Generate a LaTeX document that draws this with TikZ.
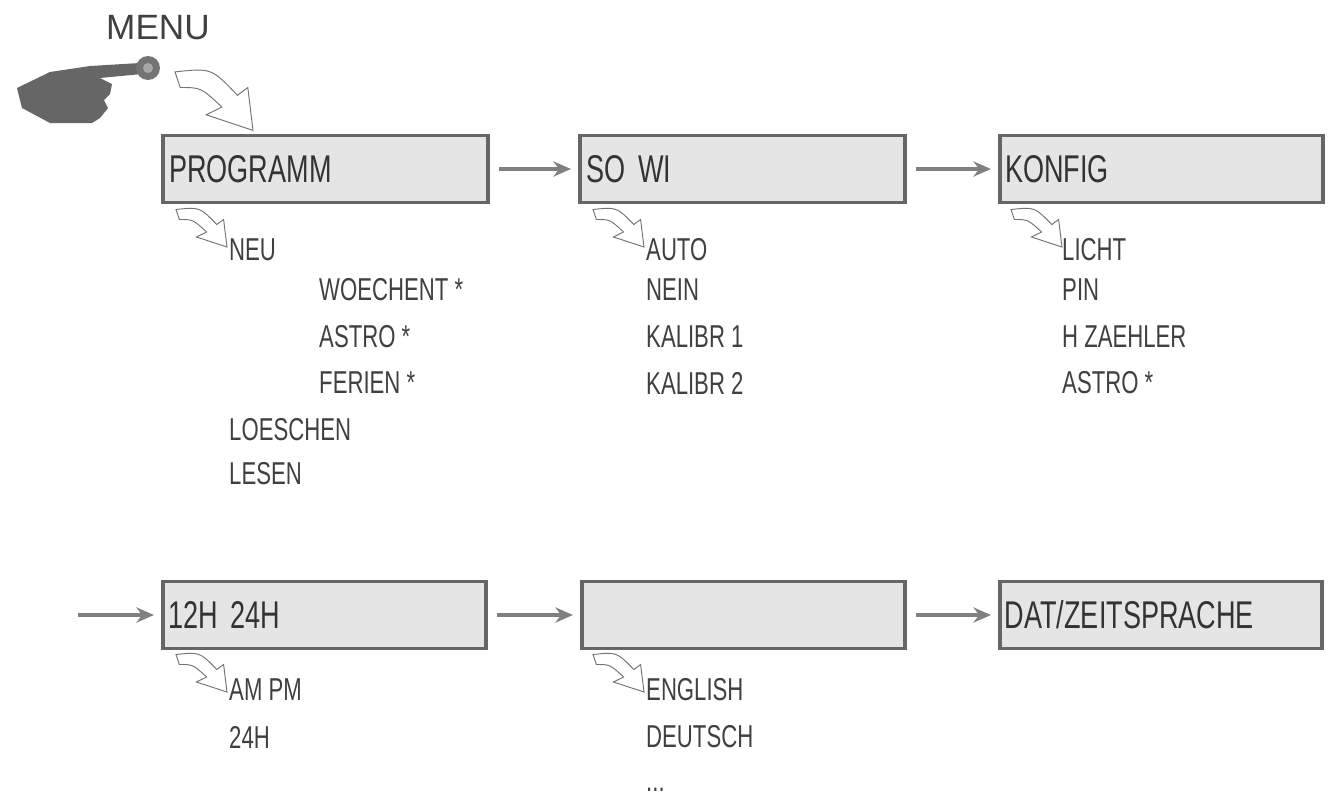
\documentclass[tikz,border=0pt]{standalone}
\usepackage{fontspec}
\setmainfont{Liberation Sans}
\newfontfamily\lcdfont[FakeStretch=0.7]{Liberation Sans}
\usetikzlibrary{arrows.meta}
\begin{document}
\begin{tikzpicture}[x=0.03cm,y=-0.03cm,
  lcd/.style={draw=black!60,line width=3pt,fill=black!10,minimum height=67*0.03cm,inner sep=0pt,anchor=west,
     font=\lcdfont\fontsize{33}{33}\selectfont,text=black!80,align=left},
  item/.style={anchor=west,inner sep=0pt,font=\lcdfont\fontsize{27}{27}\selectfont,text=black!75},
  conn/.style={-{Stealth[length=15pt,width=13pt]},line width=3.2pt,black!50},
  harrow/.pic={\draw[black!55,line width=0.8pt,fill=white]
     (0,2) .. controls (14,0) .. (24,14) -- (28,10) -- (30,32) -- (12,24) -- (18,20)
     .. controls (10,10) .. (2,10) -- cycle;}]
\useasboundingbox (0,0) rectangle (1332,804);
% boxes
\node[lcd,minimum width=325*0.03cm,text width=312*0.03cm] (b1) at (161,169) {PROGRAMM};
\node[lcd,minimum width=325*0.03cm,text width=312*0.03cm] (b2) at (578,169) {SO WI};
\node[lcd,minimum width=323*0.03cm,text width=312*0.03cm] (b3) at (998,169) {KONFIG};
\node[lcd,minimum width=323*0.03cm,text width=312*0.03cm] (b4) at (161,615) {12H 24H};
\node[lcd,minimum width=323*0.03cm,text width=312*0.03cm] (b5) at (580,615) {};
\node[lcd,minimum width=322*0.03cm,text width=312*0.03cm] (b6) at (998,615) {DAT/ZEITSPRACHE};
\coordinate (s4) at (78,615);
\draw[conn,shorten <=8pt,shorten >=6pt] (b1) -- (b2);
\draw[conn,shorten <=8pt,shorten >=6pt] (b2) -- (b3);
\draw[conn,shorten >=6pt] (s4) -- (b4);
\draw[conn,shorten <=8pt,shorten >=6pt] (b4) -- (b5);
\draw[conn,shorten <=8pt,shorten >=6pt] (b5) -- (b6);
% items
\node[item] (n1) at (229,250) {NEU};
\node[item] (n2) at (319,290) {WOECHENT *};
\node[item] (n3) at (319,337) {ASTRO *};
\node[item] (n4) at (319,383) {FERIEN *};
\node[item] (n5) at (229,430) {LOESCHEN};
\node[item] (n6) at (229,474) {LESEN};
\node[item] (a1) at (646,250) {AUTO};
\node[item] (a2) at (646,290) {NEIN};
\node[item] (a3) at (646,337) {KALIBR 1};
\node[item] (a4) at (646,383) {KALIBR 2};
\node[item] (k1) at (1062,250) {LICHT};
\node[item] (k2) at (1062,290) {PIN};
\node[item] (k3) at (1062,337) {H ZAEHLER};
\node[item] (k4) at (1062,383) {ASTRO *};
\node[item] (t1) at (229,690) {AM PM};
\node[item] (t2) at (229,737) {24H};
\node[item] (l1) at (646,690) {ENGLISH};
\node[item] (l2) at (646,737) {DEUTSCH};
\node[item] (l3) at (646,790) {...};
% small arrows
\pic[xscale=1.7,yscale=1.25] at (176,207) {harrow};
\pic[xscale=1.7,yscale=1.25] at (593,207) {harrow};
\pic[xscale=1.7,yscale=1.25] at (1011,207) {harrow};
\pic[xscale=1.7,yscale=1.25] at (176,652) {harrow};
\pic[xscale=1.7,yscale=1.25] at (593,652) {harrow};
% MENU, hand, big arrow
\node[anchor=west,inner sep=0pt,font=\fontsize{30}{30}\selectfont,text=black!75] (menu) at (106,28) {MENU};
\pic[xscale=2.6,yscale=1.95] at (175,68) {harrow};
\fill[black!60] (17,88) -- (50,72) -- (90,66) -- (140,63) -- (142,74) -- (100,78) -- (112,84) -- (110,94)
  -- (104,100) -- (108,108) -- (100,118) -- (92,123) -- (50,123) -- (22,108) -- cycle;
\fill[black!55] (148,68) circle (12);
\fill[black!35] (148,68) circle (5);
\end{tikzpicture}
\end{document}
